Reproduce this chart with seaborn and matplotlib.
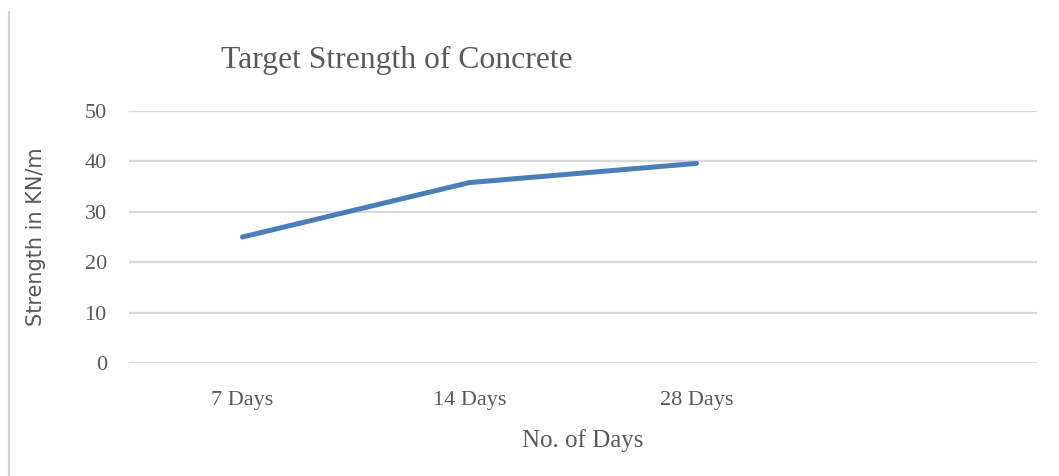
import pandas as pd
import matplotlib.pyplot as plt
import seaborn as sns
from matplotlib.lines import Line2D

# dados
days = ['7 Days', '14 Days', '28 Days']
strength = [25.0, 35.8, 39.6]
yticks = [0, 10, 20, 30, 40, 50]

df = pd.DataFrame({'days': days, 'strength': strength})

sns.set_style('white')
plt.rcParams['font.family'] = ['Liberation Serif', 'DejaVu Serif']

grey = '#595959'
fig = plt.figure(figsize=(10.59, 4.76), dpi=100)
ax = fig.add_axes([129/1059, 1 - 363/476, (1037 - 129)/1059, (363 - 111)/476])

sns.lineplot(data=df, x='days', y='strength', ax=ax, color='#4a7ebb',
             linewidth=3.6, solid_capstyle='round', sort=False)

ax.set_xlim(-0.5, 3.5)
ax.set_ylim(0, 50)
ax.set_yticks(yticks)
ax.set_xticks(range(len(days)))
ax.set_xticklabels(days)
ax.grid(axis='y', color='#d9d9d9', linewidth=1.6)
ax.set_axisbelow(True)
for s in ax.spines.values():
    s.set_visible(False)
ax.tick_params(axis='both', length=0, labelsize=16, labelcolor=grey)
ax.tick_params(axis='y', pad=16)
ax.tick_params(axis='x', pad=20)

ax.set_xlabel('No. of Days', fontsize=18, color=grey, labelpad=14)
ax.set_ylabel('Strength in KN/m', fontsize=15, color=grey,
              family='DejaVu Sans', labelpad=28)

fig.text(397/1059, 1 - 60/476, 'Target Strength of Concrete', fontsize=22.8,
         color=grey, ha='center', va='center')

# borda esquerda da imagem
fig.add_artist(Line2D([9/1059, 9/1059], [0, 1 - 12/476],
                      transform=fig.transFigure, color='#d0d0d0', linewidth=1.5))

fig.savefig('out.png', dpi=100)
